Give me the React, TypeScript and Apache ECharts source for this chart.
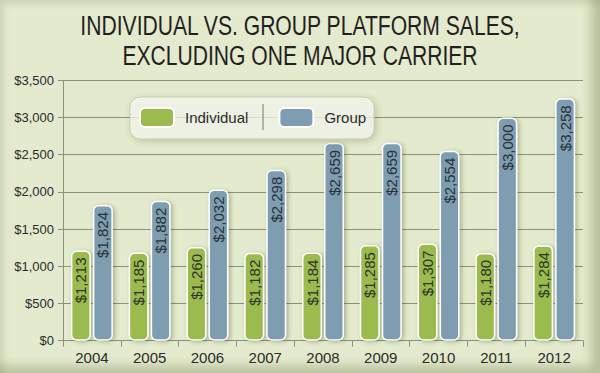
import { useEffect, useRef } from 'react';
import * as echarts from 'echarts';

const years = ['2004', '2005', '2006', '2007', '2008', '2009', '2010', '2011', '2012'];
const individual = [1213, 1185, 1260, 1182, 1184, 1285, 1307, 1180, 1284];
const group = [1824, 1882, 2032, 2298, 2659, 2659, 2554, 3000, 3258];
const seriesNames = ['Individual', 'Group'];
const titleLines = ['INDIVIDUAL VS. GROUP PLATFORM SALES,', 'EXCLUDING ONE MAJOR CARRIER'];
const yMax = 3500;
const yStep = 500;

const NARROW = "'Liberation Sans Narrow', 'Arial Narrow', 'Liberation Sans', sans-serif";
const SANS = "'Liberation Sans', Arial, sans-serif";

const fmt = (v: number) => '$' + v.toLocaleString('en-US');

export default function App() {
  const ref = useRef<HTMLDivElement>(null);
  useEffect(() => {
    if (!ref.current) return;
    const chart = echarts.init(ref.current, null, { renderer: 'svg' });

    const canvas = document.createElement('canvas');
    const ctx = canvas.getContext('2d');
    let sx = 0.7;
    if (ctx) {
      ctx.font = `28px ${NARROW}`;
      const w = ctx.measureText(titleLines[0]).width;
      if (w > 0) sx = 441 / w;
    }

    const green = '#9bbb4f';
    const blue = '#7f9db0';
    const gridColor = '#8c917a';

    const barItem = (color: string) => ({
      color,
      borderColor: '#ffffff',
      borderWidth: 1.5,
      borderRadius: 5,
      shadowBlur: 4,
      shadowColor: 'rgba(60,70,30,0.35)',
      shadowOffsetX: 2,
      shadowOffsetY: 1,
    });
    const barLabel = (color: string) => ({
      show: true,
      position: 'insideTop',
      rotate: 90,
      align: 'right',
      verticalAlign: 'middle',
      distance: 7,
      fontSize: 15,
      fontFamily: SANS,
      color,
      formatter: (p: any) => fmt(p.value),
    });

    chart.setOption({
      animation: false,
      backgroundColor: 'transparent',
      graphic: [
        ...titleLines.map((t, i) => ({
          type: 'text',
          x: 300,
          y: 25 + i * 30,
          scaleX: sx,
          style: {
            text: t,
            x: 0,
            y: 0,
            fontSize: 28,
            fontFamily: NARROW,
            fill: '#231f20',
            align: 'center',
            verticalAlign: 'middle',
          },
        })),
        {
          type: 'line',
          z: 100,
          shape: { x1: 263, y1: 104, x2: 263, y2: 130 },
          style: { stroke: '#9ba08a', lineWidth: 1.5 },
        },
      ],
      legend: {
        left: 130,
        top: 97,
        data: seriesNames,
        itemWidth: 34,
        itemHeight: 19,
        itemGap: 30,
        icon: 'roundRect',
        padding: [10, 8, 11, 9],
        backgroundColor: 'rgba(250,252,244,0.7)',
        borderColor: '#c6cbb6',
        borderWidth: 1,
        borderRadius: 10,
        shadowBlur: 6,
        shadowColor: 'rgba(60,70,30,0.3)',
        shadowOffsetX: 2,
        shadowOffsetY: 2,
        itemStyle: { borderColor: '#ffffff', borderWidth: 2 },
        textStyle: {
          fontSize: 15,
          fontFamily: NARROW,
          color: '#2b2b2b',
          padding: [0, 0, 0, 6],
        },
      },
      grid: { left: 63, right: 17, top: 80.3, bottom: 32.3, containLabel: false },
      xAxis: {
        type: 'category',
        data: years,
        axisLine: { show: true, lineStyle: { color: gridColor, width: 1 } },
        axisTick: { show: true, length: 6, lineStyle: { color: gridColor } },
        axisLabel: { fontSize: 15, fontFamily: NARROW, color: '#2b2b2b', margin: 9 },
      },
      yAxis: {
        type: 'value',
        min: 0,
        max: yMax,
        interval: yStep,
        axisLine: { show: true, lineStyle: { color: gridColor, width: 1 } },
        axisTick: { show: true, length: 5, lineStyle: { color: gridColor } },
        splitLine: { show: true, lineStyle: { color: gridColor, width: 1 } },
        axisLabel: {
          fontSize: 13,
          fontFamily: NARROW,
          color: '#2b2b2b',
          margin: 9,
          formatter: (v: number) => fmt(v),
        },
      },
      series: [
        {
          name: seriesNames[0],
          type: 'bar',
          data: individual,
          barWidth: 20,
          barGap: '10%',
          itemStyle: barItem(green),
          label: barLabel('#2f3328'),
        },
        {
          name: seriesNames[1],
          type: 'bar',
          data: group,
          barWidth: 20,
          barGap: '10%',
          itemStyle: barItem(blue),
          label: barLabel('#27323a'),
        },
      ],
    });
    return () => chart.dispose();
  }, []);

  return (
    <div
      style={{
        position: 'absolute',
        left: 0,
        top: 0,
        width: 600,
        height: 373,
        background: '#e3eacd',
        boxShadow:
          'inset -9px -7px 10px rgba(110,120,70,0.35), inset 4px 4px 6px rgba(110,120,70,0.18)',
      }}
    >
      <div ref={ref} style={{ width: 600, height: 373 }} />
    </div>
  );
}
